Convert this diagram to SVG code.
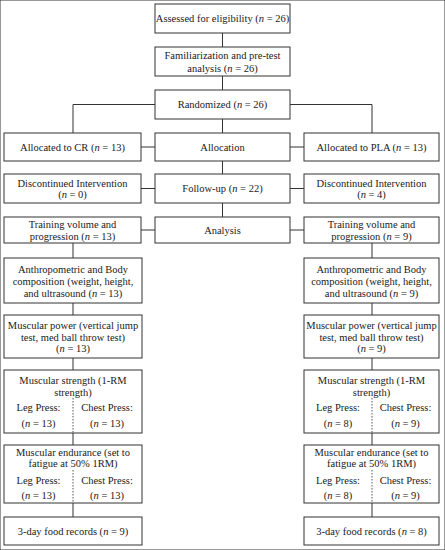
<svg xmlns="http://www.w3.org/2000/svg" width="445" height="550" viewBox="0 0 445 550">
<style>
rect{fill:#fff;stroke:#333;stroke-width:1}
text{font-family:'Liberation Serif','DejaVu Serif',serif;font-size:10.5px;fill:#1a1a1a;text-anchor:middle}
.i{font-style:italic}
.c{stroke:#333;stroke-width:1;fill:none}
.d{stroke:#555;stroke-width:1;stroke-dasharray:1.5 1.5;fill:none}
</style>
<rect width="445" height="550" fill="#fff" stroke="none"/>
<g id="connectors">
<path class="c" d="M222.5,33V47M222.5,76V90M222.5,119V133M222.5,161V174M222.5,203V217"/>
<path class="c" d="M155,104.5H73V133M290,104.5H372V133"/>
<path class="c" d="M141,147H155M290,147H304M141,188.5H155M290,188.5H304M141,230H155M290,230H304"/>
<path class="c" d="M73,243V258M73,303V315M73,358V370M73,433V445M73,503V517"/>
<path class="c" d="M372,243V258M372,303V315M372,358V370M372,433V445M372,503V517"/>
</g>
<g id="assessed"><rect x="155" y="4" width="135" height="29"/><text x="222.5" y="22">Assessed for eligibility (<tspan class="i">n</tspan> = 26)</text></g>
<g id="familiarization"><rect x="155" y="47" width="135" height="29"/><text x="222.5" y="59">Familiarization and pre-test</text><text x="222.5" y="71.5">analysis (<tspan class="i">n</tspan> = 26)</text></g>
<g id="randomized"><rect x="155" y="90" width="135" height="29"/><text x="222.5" y="108">Randomized (<tspan class="i">n</tspan> = 26)</text></g>
<g id="alloc-cr"><rect x="4" y="133" width="137" height="28"/><text x="72.5" y="150.5">Allocated to CR (<tspan class="i">n</tspan> = 13)</text></g>
<g id="allocation"><rect x="155" y="133" width="135" height="28"/><text x="222.5" y="150.5">Allocation</text></g>
<g id="alloc-pla"><rect x="304" y="133" width="135" height="28"/><text x="371.5" y="150.5">Allocated to PLA (<tspan class="i">n</tspan> = 13)</text></g>
<g id="disc-cr"><rect x="4" y="174" width="137" height="29"/><text x="72.5" y="186.5">Discontinued Intervention</text><text x="72.5" y="198">(<tspan class="i">n</tspan> = 0)</text></g>
<g id="followup"><rect x="155" y="174" width="135" height="29"/><text x="222.5" y="192">Follow-up (<tspan class="i">n</tspan> = 22)</text></g>
<g id="disc-pla"><rect x="304" y="174" width="135" height="29"/><text x="371.5" y="186.5">Discontinued Intervention</text><text x="371.5" y="198">(<tspan class="i">n</tspan> = 4)</text></g>
<g id="train-cr"><rect x="4" y="217" width="137" height="26"/><text x="72.5" y="227.5">Training volume and</text><text x="72.5" y="240">progression (<tspan class="i">n</tspan> = 13)</text></g>
<g id="analysis"><rect x="155" y="217" width="135" height="26"/><text x="222.5" y="234">Analysis</text></g>
<g id="train-pla"><rect x="304" y="217" width="135" height="26"/><text x="371.5" y="227.5">Training volume and</text><text x="371.5" y="240">progression (<tspan class="i">n</tspan> = 9)</text></g>
<g id="anthro-cr"><rect x="4" y="258" width="138" height="45"/><text x="73" y="272.5">Anthropometric and Body</text><text x="73" y="284.5">composition (weight, height,</text><text x="73" y="296.5">and ultrasound (<tspan class="i">n</tspan> = 13)</text></g>
<g id="anthro-pla"><rect x="304" y="258" width="135" height="45"/><text x="371.5" y="272.5">Anthropometric and Body</text><text x="371.5" y="284.5">composition (weight, height,</text><text x="371.5" y="296.5">and ultrasound (<tspan class="i">n</tspan> = 9)</text></g>
<g id="power-cr"><rect x="4" y="315" width="138" height="43"/><text x="73" y="328.5">Muscular power (vertical jump</text><text x="73" y="340.5">test, med ball throw test)</text><text x="73" y="352">(<tspan class="i">n</tspan> = 13)</text></g>
<g id="power-pla"><rect x="304" y="315" width="135" height="43"/><text x="371.5" y="328.5">Muscular power (vertical jump</text><text x="371.5" y="340.5">test, med ball throw test)</text><text x="371.5" y="352">(<tspan class="i">n</tspan> = 9)</text></g>
<g id="strength-cr"><rect x="4" y="370" width="138" height="63"/><text x="73" y="383.5">Muscular strength (1-RM</text><text x="73" y="395.5">strength)</text><path class="d" d="M73,398V433"/><text x="38.5" y="410.5">Leg Press:</text><text x="107" y="410.5">Chest Press:</text><text x="38.5" y="426.5">(<tspan class="i">n</tspan> = 13)</text><text x="107" y="426.5">(<tspan class="i">n</tspan> = 13)</text></g>
<g id="strength-pla"><rect x="304" y="370" width="135" height="63"/><text x="371.5" y="383.5">Muscular strength (1-RM</text><text x="371.5" y="395.5">strength)</text><path class="d" d="M372,398V433"/><text x="338" y="410.5">Leg Press:</text><text x="405.5" y="410.5">Chest Press:</text><text x="338" y="426.5">(<tspan class="i">n</tspan> = 8)</text><text x="405.5" y="426.5">(<tspan class="i">n</tspan> = 9)</text></g>
<g id="endurance-cr"><rect x="4" y="445" width="138" height="58"/><text x="73" y="455.5">Muscular endurance (set to</text><text x="73" y="467">fatigue at 50% 1RM)</text><path class="d" d="M73,470V503"/><text x="38.5" y="483.5">Leg Press:</text><text x="107" y="483.5">Chest Press:</text><text x="38.5" y="498.5">(<tspan class="i">n</tspan> = 13)</text><text x="107" y="498.5">(<tspan class="i">n</tspan> = 13)</text></g>
<g id="endurance-pla"><rect x="304" y="445" width="135" height="58"/><text x="371.5" y="455.5">Muscular endurance (set to</text><text x="371.5" y="467">fatigue at 50% 1RM)</text><path class="d" d="M372,470V503"/><text x="338" y="483.5">Leg Press:</text><text x="405.5" y="483.5">Chest Press:</text><text x="338" y="498.5">(<tspan class="i">n</tspan> = 8)</text><text x="405.5" y="498.5">(<tspan class="i">n</tspan> = 9)</text></g>
<g id="food-cr"><rect x="4" y="517" width="138" height="28"/><text x="73" y="535">3-day food records (<tspan class="i">n</tspan> = 9)</text></g>
<g id="food-pla"><rect x="304" y="517" width="135" height="28"/><text x="371.5" y="535">3-day food records (<tspan class="i">n</tspan> = 8)</text></g>
</svg>
